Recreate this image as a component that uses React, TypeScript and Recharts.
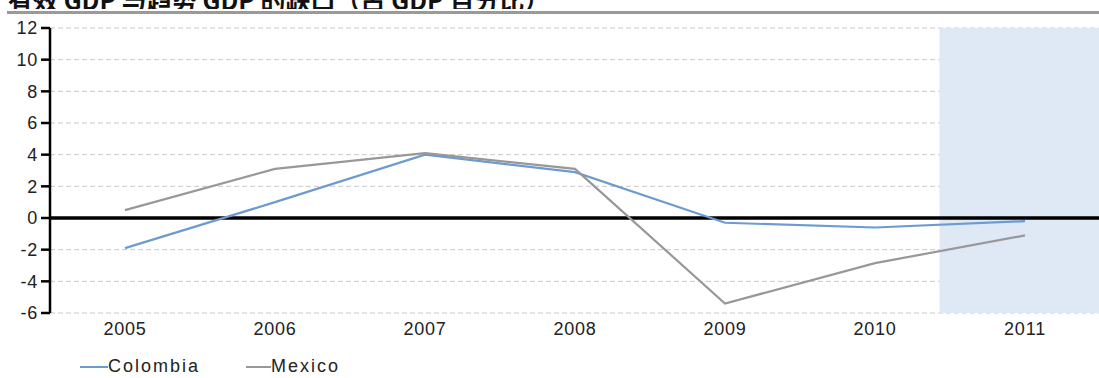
import { LineChart, Line, XAxis, YAxis, CartesianGrid, ReferenceLine, ReferenceArea } from "recharts";

const years = [2005, 2006, 2007, 2008, 2009, 2010, 2011];
const colombia = [-1.9, 1.0, 4.0, 2.9, -0.3, -0.6, -0.2];
const mexico = [0.5, 3.1, 4.1, 3.1, -5.4, -2.85, -1.1];
const yTicks = [-6, -4, -2, 0, 2, 4, 6, 8, 10, 12];
const forecastStart = 2010.43;

const data = years.map((year, i) => ({ year, colombia: colombia[i], mexico: mexico[i] }));

const font = "'Liberation Sans', Arial, sans-serif";
const tickStyle = { fill: "#222", fontSize: 18, fontFamily: font, letterSpacing: 0.8 };

export default function App() {
  return (
    <div style={{ position: "absolute", left: 0, top: 0, width: 1099, height: 378, background: "#fff", overflow: "hidden", fontFamily: font }}>
      {/* title, cut off at top as in the source page */}
      <div style={{ position: "absolute", left: 8, top: 0, height: 9, overflow: "hidden", width: 700 }}>
        <div style={{ marginTop: -19, fontSize: 25, fontWeight: "bold", color: "#111", whiteSpace: "nowrap", fontFamily: "'Noto Sans CJK SC', sans-serif" }}>
          有效 GDP 与趋势 GDP 的缺口（占 GDP 百分比）
        </div>
      </div>
      <div style={{ position: "absolute", left: 7, top: 11, right: 0, height: 3, background: "#9a9a9a" }} />

      <div style={{ position: "absolute", left: 0, top: 0 }}>
        <LineChart width={1100} height={340} data={data} margin={{ top: 28, right: 0, left: 0, bottom: 0 }}>
          <ReferenceArea x1={forecastStart} x2={2011.5} y1={-6} y2={12} fill="#dfe9f6" fillOpacity={1} stroke="none" />
          <CartesianGrid vertical={false} stroke="#c8c8c8" strokeDasharray="5 3" />
          <XAxis
            dataKey="year"
            type="number"
            domain={[2004.5, 2011.5]}
            ticks={years}
            axisLine={false}
            tickLine={false}
            tickMargin={3}
            height={27}
            tick={tickStyle}
          />
          <YAxis
            domain={[-6, 12]}
            ticks={yTicks}
            width={50}
            axisLine={{ stroke: "#000", strokeWidth: 2.5 }}
            tickLine={{ stroke: "#000", strokeWidth: 2.5 }}
            tickSize={9}
            tickMargin={3}
            tick={tickStyle}
          />
          <ReferenceLine y={0} stroke="#000" strokeWidth={3.5} />
          <Line type="linear" dataKey="colombia" stroke="#6d9bd1" strokeWidth={2.2} dot={false} isAnimationActive={false} />
          <Line type="linear" dataKey="mexico" stroke="#989898" strokeWidth={2.2} dot={false} isAnimationActive={false} />
        </LineChart>
      </div>

      <div style={{ position: "absolute", left: 80, top: 356, display: "flex", alignItems: "center", fontSize: 18, color: "#222", letterSpacing: 2 }}>
        <span style={{ display: "inline-block", width: 28, height: 2, background: "#6d9bd1" }} />
        <span style={{ marginRight: 46 }}>Colombia</span>
        <span style={{ display: "inline-block", width: 25, height: 2, background: "#989898" }} />
        <span>Mexico</span>
      </div>
    </div>
  );
}
